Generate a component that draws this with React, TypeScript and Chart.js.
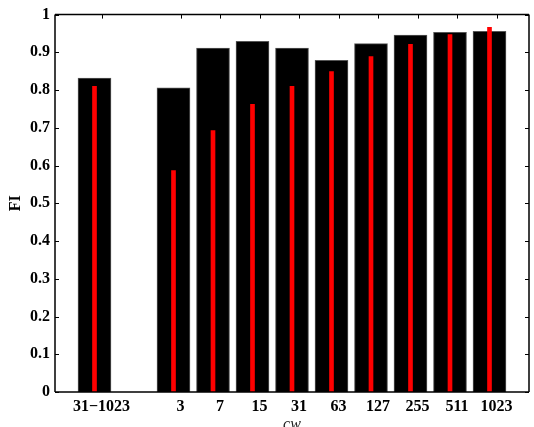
import React, { useEffect, useRef } from "react";
import { Chart, registerables } from "chart.js";

Chart.register(...registerables);

// categories (blank entry = gap between groups)
const categories = ["31−1023", "", "3", "7", "15", "31", "63", "127", "255", "511", "1023"];
// black bars
const blackValues: (number | null)[] = [0.832, null, 0.806, 0.911, 0.929, 0.911, 0.879, 0.923, 0.946, 0.953, 0.956];
// red bars
const redValues: (number | null)[] = [0.81, null, 0.587, 0.693, 0.762, 0.81, 0.849, 0.889, 0.921, 0.947, 0.966];
const yTicks = [0, 0.1, 0.2, 0.3, 0.4, 0.5, 0.6, 0.7, 0.8, 0.9, 1];

const FONT = "'Liberation Serif', 'Times New Roman', serif";
const LABEL_SHIFT = 7;

export default function App() {
  const ref = useRef<HTMLCanvasElement | null>(null);

  useEffect(() => {
    document.body.style.margin = "0";
    document.body.style.overflow = "hidden";
    const labels = ["", ...categories, ""];
    const pad = (arr: (number | null)[]) => [null, ...arr, null];

    const frame = {
      id: "frame",
      afterDatasetsDraw(chart: any) {
        const { ctx, chartArea, scales } = chart;
        const { left, right, top, bottom } = chartArea;
        const x = scales.x;
        const y = scales.y;
        ctx.save();
        ctx.strokeStyle = "#000";
        ctx.lineWidth = 1.5;
        ctx.beginPath();
        ctx.moveTo(left, top);
        ctx.lineTo(right, top);
        ctx.moveTo(left, bottom);
        ctx.lineTo(right, bottom);
        ctx.moveTo(left, top);
        ctx.lineTo(left, bottom);
        ctx.moveTo(right, top);
        ctx.lineTo(right, bottom);
        ctx.stroke();
        ctx.lineWidth = 1;
        ctx.beginPath();
        yTicks.forEach((v) => {
          const py = Math.round(y.getPixelForValue(v)) + 0.5;
          ctx.moveTo(left, py);
          ctx.lineTo(left + 4, py);
          ctx.moveTo(right, py);
          ctx.lineTo(right - 4, py);
        });
        labels.forEach((l, i) => {
          if (!l) return;
          const px = Math.round(x.getPixelForTick(i) + LABEL_SHIFT) + 0.5;
          ctx.moveTo(px, top);
          ctx.lineTo(px, top + 4);
          ctx.moveTo(px, bottom);
          ctx.lineTo(px, bottom - 4);
        });
        ctx.stroke();
        ctx.restore();
      },
    };

    const chart = new Chart(ref.current as HTMLCanvasElement, {
      type: "bar",
      data: {
        labels,
        datasets: [
          {
            label: "red",
            data: pad(redValues),
            backgroundColor: "#ff0000",
            barThickness: 4,
            grouped: false,
            order: 0,
          } as any,
          {
            label: "black",
            data: pad(blackValues),
            backgroundColor: "#000000",
            borderColor: "#555555",
            borderWidth: 1,
            barThickness: 33,
            grouped: false,
            order: 1,
          } as any,
        ],
      },
      options: {
        animation: false,
        responsive: false,
        maintainAspectRatio: false,
        layout: { padding: { top: 14, left: 0, right: 0, bottom: 0 } },
        plugins: { legend: { display: false }, tooltip: { enabled: false } },
        scales: {
          x: {
            type: "category",
            offset: false,
            grid: { display: false, drawTicks: false, offset: false },
            border: { display: false },
            ticks: {
              autoSkip: false,
              maxRotation: 0,
              minRotation: 0,
              padding: 5,
              labelOffset: LABEL_SHIFT,
              color: "#000",
              font: { family: FONT, size: 16, weight: "bold" },
            },
            title: {
              display: true,
              text: "cw",
              color: "#222",
              font: { family: FONT, size: 16, style: "italic" },
              padding: { top: 0, bottom: 6 },
            },
            afterFit: (s: any) => {
              s.height = 48;
            },
          },
          y: {
            min: 0,
            max: 1,
            grid: { display: false, drawTicks: false },
            border: { display: false },
            ticks: {
              stepSize: 0.1,
              padding: 5,
              color: "#000",
              font: { family: FONT, size: 16, weight: "bold" },
              callback: (v: any) => {
                const n = Number(v);
                if (n === 0) return "0";
                if (n === 1) return "1";
                return n.toFixed(1);
              },
            },
            title: {
              display: true,
              text: "FI",
              color: "#000",
              font: { family: FONT, size: 16, weight: "bold" },
              padding: { top: 6, bottom: 0 },
            },
            afterFit: (s: any) => {
              s.width = 55;
            },
          },
        },
      } as any,
      plugins: [frame],
    });
    return () => chart.destroy();
  }, []);

  return (
    <div style={{ position: "fixed", left: 0, top: 0, width: 534, height: 427, overflow: "hidden", background: "#fff" }}>
      <canvas ref={ref} width={534} height={440} style={{ display: "block" }} />
    </div>
  );
}
